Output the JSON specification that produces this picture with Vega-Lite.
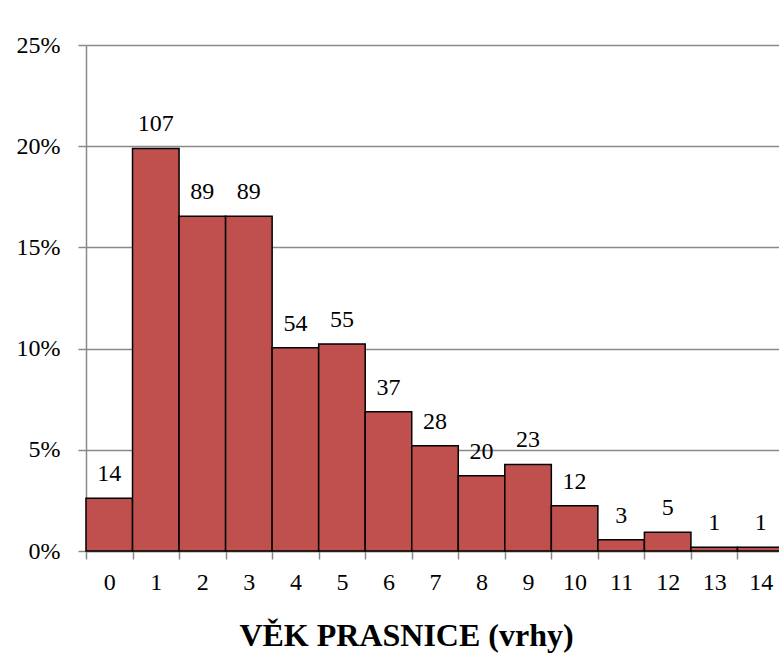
{
  "$schema": "https://vega.github.io/schema/vega-lite/v6.json",
  "autosize": "none",
  "width": 698,
  "height": 506,
  "padding": {"left": 86, "top": 45, "right": 0, "bottom": 117},
  "background": "white",
  "config": {
    "view": {"stroke": null},
    "font": "'Times New Roman', 'Liberation Serif', Tinos, serif"
  },
  "data": {
    "values": [
      {"vek": "0", "pocet": 14, "podil": 0.02602},
      {"vek": "1", "pocet": 107, "podil": 0.19888},
      {"vek": "2", "pocet": 89, "podil": 0.16543},
      {"vek": "3", "pocet": 89, "podil": 0.16543},
      {"vek": "4", "pocet": 54, "podil": 0.10037},
      {"vek": "5", "pocet": 55, "podil": 0.10223},
      {"vek": "6", "pocet": 37, "podil": 0.06877},
      {"vek": "7", "pocet": 28, "podil": 0.05204},
      {"vek": "8", "pocet": 20, "podil": 0.03717},
      {"vek": "9", "pocet": 23, "podil": 0.04275},
      {"vek": "10", "pocet": 12, "podil": 0.02230},
      {"vek": "11", "pocet": 3, "podil": 0.00558},
      {"vek": "12", "pocet": 5, "podil": 0.00929},
      {"vek": "13", "pocet": 1, "podil": 0.00186},
      {"vek": "14", "pocet": 1, "podil": 0.00186}
    ]
  },
  "encoding": {
    "x": {
      "field": "vek",
      "type": "ordinal",
      "sort": null,
      "scale": {"paddingInner": 0, "paddingOuter": 0},
      "axis": {
        "title": "VĚK PRASNICE (vrhy)",
        "titleFont": "'Times New Roman', 'Liberation Serif', Tinos, serif",
        "titleFontSize": 32,
        "titleFontWeight": "bold",
        "titleColor": "black",
        "titlePadding": 26,
        "titleX": 320,
        "titleAlign": "center",
        "labelAngle": 0,
        "labelFont": "'Times New Roman', 'Liberation Serif', Tinos, serif",
        "labelFontSize": 24,
        "labelColor": "black",
        "labelPadding": 11,
        "tickBand": "extent",
        "tickSize": 8,
        "tickColor": "#898989",
        "tickWidth": 1.5,
        "domainColor": "#898989",
        "domainWidth": 1.5,
        "grid": false
      }
    },
    "y": {
      "field": "podil",
      "type": "quantitative",
      "scale": {"domain": [0, 0.25], "nice": false},
      "axis": {
        "title": null,
        "format": ".0%",
        "values": [0, 0.05, 0.1, 0.15, 0.2, 0.25],
        "labelFont": "'Times New Roman', 'Liberation Serif', Tinos, serif",
        "labelFontSize": 24,
        "labelColor": "black",
        "labelPadding": 18,
        "tickSize": 8,
        "tickColor": "#898989",
        "tickWidth": 1.5,
        "domainColor": "#898989",
        "domainWidth": 1.5,
        "grid": true,
        "gridColor": "#898989",
        "gridWidth": 1.5
      }
    }
  },
  "layer": [
    {
      "mark": {"type": "bar", "fill": "#C0504D", "stroke": "black", "strokeWidth": 1.5}
    },
    {
      "mark": {"type": "text", "baseline": "alphabetic", "dy": -17, "fontSize": 24, "font": "'Times New Roman', 'Liberation Serif', Tinos, serif", "color": "black"},
      "encoding": {"text": {"field": "pocet", "type": "quantitative"}}
    }
  ]
}
